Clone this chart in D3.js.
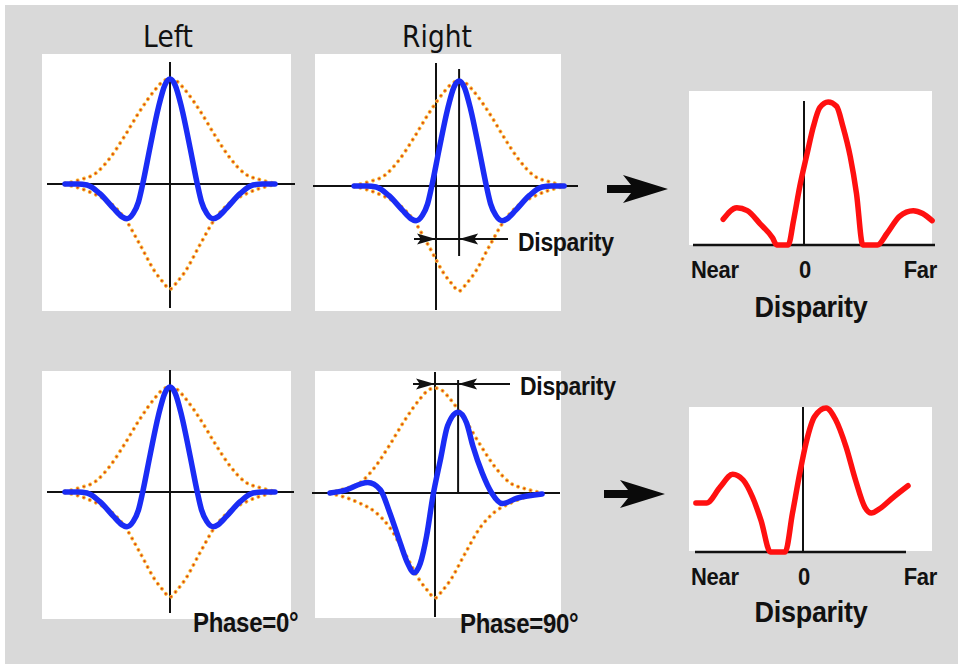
<!DOCTYPE html>
<html>
<head>
<meta charset="utf-8">
<script src="https://cdn.jsdelivr.net/npm/d3@7"></script>
<style>
  body { margin: 0; background: #ffffff; }
  svg { display: block; }
</style>
</head>
<body>
<div id="chart"></div>
<script>
// filter position (1 unit = one tenth of the filter half-width)
const evenX = [-10, -8.8, -7.9, -6.7, -5.4, -4.6, -4.1, -3.5, -3.0, -2.6, -1.9, -1.1, -0.5, 0,
               0.5, 1.1, 1.9, 2.6, 3.0, 3.5, 4.1, 4.6, 5.4, 6.7, 7.9, 8.8, 10];
const evenY = [0, 0, -0.01, -0.09, -0.23, -0.31, -0.33, -0.28, -0.17, 0, 0.35, 0.73, 0.94, 1,
               0.94, 0.73, 0.35, 0, -0.17, -0.28, -0.33, -0.31, -0.23, -0.09, -0.01, 0, 0];

const oddX = [-10, -8.8, -6.4, -5.2, -4.3, -3.3, -2.6, -2.0, -1.4, -0.8, -0.2, 0.5, 1.2, 2.2,
              3.0, 3.6, 4.5, 5.4, 6.4, 7.8, 10.2];
const oddY = [0, 0.02, 0.1, 0.03, -0.19, -0.48, -0.67, -0.76, -0.67, -0.41, -0.03, 0.31, 0.64, 0.77,
              0.67, 0.45, 0.19, 0, -0.1, -0.05, -0.01];

// gaussian envelope (dotted)
const envX = [-10, -8.6, -7.1, -5.7, -4.3, -2.9, -1.4, -0.7, 0, 0.7, 1.4, 2.9, 4.3, 5.7, 7.1, 8.6, 10];
const envUpper = [0.005, 0.04, 0.1, 0.25, 0.46, 0.69, 0.9, 0.975, 1, 0.975, 0.9, 0.69, 0.46, 0.25, 0.1, 0.04, 0.005];
const envLower = [-0.005, -0.04, -0.1, -0.18, -0.33, -0.57, -0.84, -0.93, -1, -0.93, -0.84, -0.57, -0.33, -0.18, -0.1, -0.04, -0.005];

// disparity tuning curves (response 0..1)
const tuneX1 = [-7.7, -6.4, -5.4, -4.2, -3.0, -2.6, -1.5, -1.0, -0.4, 0.3, 0.9, 1.5, 2.3, 3.1,
                3.7, 4.4, 5.0, 5.6, 7.0, 7.9, 9.1, 10.4, 11.3, 12.2];
const tuneY1 = [0.18, 0.26, 0.24, 0.15, 0.05, 0, 0, 0.17, 0.41, 0.64, 0.83, 0.96, 1, 0.97,
                0.83, 0.62, 0.36, 0, 0, 0.08, 0.2, 0.24, 0.22, 0.17];
const tuneX2 = [-10.2, -9.2, -7.9, -6.7, -5.7, -4.8, -4.0, -3.1, -1.7, -1.0, -0.3, 0.3, 1.1, 2.2,
                3.1, 4.1, 5.0, 5.9, 6.5, 7.3, 8.6, 10.0];
const tuneY2 = [0.34, 0.34, 0.45, 0.54, 0.5, 0.38, 0.22, 0, 0, 0.27, 0.55, 0.76, 0.94, 1,
                0.92, 0.73, 0.5, 0.31, 0.27, 0.3, 0.38, 0.46];

const disparityShift = 2.2;
const columnTitles = ["Left", "Right"];
const phaseLabels = ["Phase=0°", "Phase=90°"];
const tuneTicks = ["Near", "0", "Far"];
const axisTitle = "Disparity";

const W = 958, H = 664;
const zip = (xs, ys) => xs.map((x, i) => ({ x: x, y: ys[i] }));

const svg = d3.select("#chart").append("svg")
    .attr("width", W).attr("height", H);

svg.append("rect").attr("x", 5).attr("y", 5)
    .attr("width", W - 5).attr("height", H - 5)
    .attr("fill", "#d9d9d9");

// text, stretched a little vertically like the original slide
function label(x, y, txt, size, anchor, family) {
    svg.append("text")
        .attr("transform", `translate(${x},${y}) scale(1,1.12)`)
        .attr("text-anchor", anchor || "start")
        .style("font-family", family || "'Liberation Sans', Arial, sans-serif")
        .style("font-weight", family ? "normal" : "bold")
        .style("font-size", size + "px")
        .style("letter-spacing", family ? "0px" : "-0.3px")
        .attr("fill", "#111")
        .text(txt);
}

function arrowHead(g, tipX, tipY, dir, len, half) {
    g.append("path")
        .attr("d", `M${tipX},${tipY} L${tipX - dir * len},${tipY - half} L${tipX - dir * len * 0.8},${tipY} L${tipX - dir * len},${tipY + half} Z`)
        .attr("fill", "#111");
}

// filter panels
const filterPanels = [
    { box: [42, 54, 291, 311], cx: 170, cy: 184, hx: [47, 295], vy: [62, 308], kind: "even", shift: 0 },
    { box: [315, 54, 561, 311], cx: 436, cy: 186, hx: [313, 578], vy: [63, 310], kind: "even", shift: disparityShift,
      marker: [69, 256], arrowY: 239, textX: 518, textY: 251 },
    { box: [42, 371, 291, 619], cx: 170, cy: 492, hx: [47, 294], vy: [370, 613], kind: "even", shift: 0 },
    { box: [315, 371, 561, 618], cx: 435, cy: 493, hx: [312, 560], vy: [372, 617], kind: "odd", shift: 0,
      envShift: 0, marker: [380, 493], markerX: disparityShift, arrowY: 384, textX: 520, textY: 395 }
];

filterPanels.forEach(p => {
    const g = svg.append("g");
    const x = d3.scaleLinear().domain([-10, 10]).range([p.cx - 105, p.cx + 105]);
    const y = d3.scaleLinear().domain([-1, 1]).range([p.cy + 105, p.cy - 105]);
    const envOffset = p.envShift !== undefined ? p.envShift : p.shift;

    g.append("rect")
        .attr("x", p.box[0]).attr("y", p.box[1])
        .attr("width", p.box[2] - p.box[0]).attr("height", p.box[3] - p.box[1])
        .attr("fill", "#ffffff");

    // axes
    g.append("line").attr("x1", p.hx[0]).attr("x2", p.hx[1])
        .attr("y1", y(0)).attr("y2", y(0))
        .attr("stroke", "#111").attr("stroke-width", 2);
    g.append("line").attr("x1", x(0)).attr("x2", x(0))
        .attr("y1", p.vy[0]).attr("y2", p.vy[1])
        .attr("stroke", "#111").attr("stroke-width", 2);

    // dotted envelope
    const env = d3.line().x(d => x(d.x + envOffset)).y(d => y(d.y)).curve(d3.curveMonotoneX);
    [envUpper, envLower].forEach(ys => {
        const data = zip(envX, ys);
        g.append("path").attr("d", env(data))
            .attr("fill", "none").attr("stroke", "#f7b530")
            .attr("stroke-width", 3.8).attr("stroke-linecap", "round")
            .attr("stroke-dasharray", "0.1 6.4");
        g.append("path").attr("d", env(data))
            .attr("fill", "none").attr("stroke", "#d8361a")
            .attr("stroke-width", 1.8).attr("stroke-linecap", "round")
            .attr("stroke-dasharray", "0.1 6.4");
    });

    // disparity marker and arrows
    if (p.marker) {
        const mx = x(p.markerX !== undefined ? p.markerX : p.shift);
        g.append("line").attr("x1", mx).attr("x2", mx)
            .attr("y1", p.marker[0]).attr("y2", p.marker[1])
            .attr("stroke", "#111").attr("stroke-width", 2);
        g.append("line").attr("x1", x(0) - 22).attr("x2", p.textX - 10)
            .attr("y1", p.arrowY).attr("y2", p.arrowY)
            .attr("stroke", "#111").attr("stroke-width", 2);
        arrowHead(g, x(0), p.arrowY, 1, 19, 5.5);
        arrowHead(g, mx, p.arrowY, -1, 19, 5.5);
    }

    // filter profile
    const wave = p.kind === "even" ? zip(evenX, evenY) : zip(oddX, oddY);
    const line = d3.line().x(d => x(d.x + p.shift)).y(d => y(d.y)).curve(d3.curveMonotoneX);
    g.append("path").attr("d", line(wave))
        .attr("fill", "none").attr("stroke", "#1a2cf5")
        .attr("stroke-width", 5.5).attr("stroke-linejoin", "round").attr("stroke-linecap", "round");

    if (p.marker) label(p.textX, p.textY, axisTitle, 23);
});

// tuning curve panels
const tunePanels = [
    { box: [689, 91, 932, 245], x0: 804, base: 245, top: 102, hx: [693, 935], vy0: 101, data: zip(tuneX1, tuneY1),
      nearY: 278, titleY: 317, arrow: [668, 189] },
    { box: [689, 407, 932, 551], x0: 803, base: 552, top: 408, hx: [695, 906], vy0: 407, data: zip(tuneX2, tuneY2),
      nearY: 585, titleY: 622, arrow: [665, 494] }
];

tunePanels.forEach(p => {
    const g = svg.append("g");
    const x = d3.scaleLinear().domain([0, 1]).range([p.x0, p.x0 + 10.5]);
    const y = d3.scaleLinear().domain([0, 1]).range([p.base, p.top]);

    g.append("rect")
        .attr("x", p.box[0]).attr("y", p.box[1])
        .attr("width", p.box[2] - p.box[0]).attr("height", p.box[3] - p.box[1])
        .attr("fill", "#ffffff");
    g.append("line").attr("x1", p.hx[0]).attr("x2", p.hx[1])
        .attr("y1", y(0)).attr("y2", y(0))
        .attr("stroke", "#111").attr("stroke-width", 2.5);
    g.append("line").attr("x1", x(0)).attr("x2", x(0))
        .attr("y1", p.vy0).attr("y2", y(0))
        .attr("stroke", "#111").attr("stroke-width", 2);

    const line = d3.line().x(d => x(d.x)).y(d => y(d.y)).curve(d3.curveMonotoneX);
    g.append("path").attr("d", line(p.data))
        .attr("fill", "none").attr("stroke", "#ff1010")
        .attr("stroke-width", 5.5).attr("stroke-linejoin", "round").attr("stroke-linecap", "round");

    label(p.box[0] + 2, p.nearY, tuneTicks[0], 22);
    label(x(0) + 1, p.nearY, tuneTicks[1], 22, "middle");
    label(937, p.nearY, tuneTicks[2], 22, "end");
    label(811, p.titleY, axisTitle, 27, "middle");

    // big arrow into the tuning curve
    const [tx, ty] = p.arrow;
    g.append("path")
        .attr("d", `M${tx - 61},${ty - 4} L${tx - 37},${ty - 4} L${tx - 45},${ty - 14} L${tx},${ty} L${tx - 45},${ty + 14} L${tx - 37},${ty + 4} L${tx - 61},${ty + 4} Z`)
        .attr("fill", "#0a0a0a");
});

// titles and phase labels
label(168, 47, columnTitles[0], 26.5, "middle", "'DejaVu Sans', Verdana, sans-serif");
label(437, 47, columnTitles[1], 26.5, "middle", "'DejaVu Sans', Verdana, sans-serif");
label(193, 632, phaseLabels[0], 24);
label(460, 633, phaseLabels[1], 24);
</script>
</body>
</html>
